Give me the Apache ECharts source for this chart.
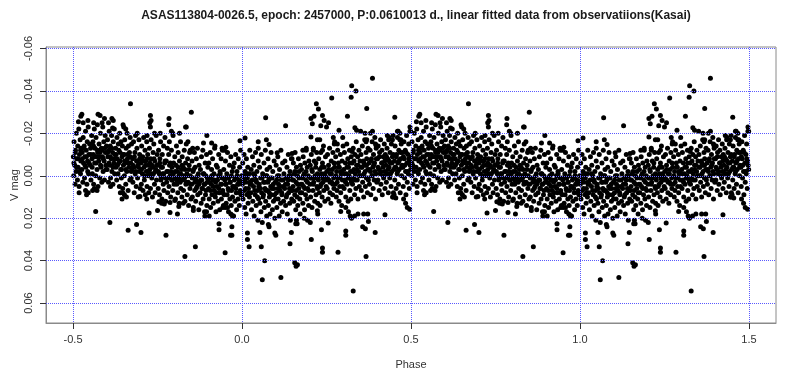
<!DOCTYPE html>
<html>
<head>
<meta charset="utf-8">
<script src="https://cdn.jsdelivr.net/npm/echarts@6/dist/echarts.min.js"></script>
<style>html,body{margin:0;padding:0;background:#fff}#c{width:800px;height:381px}</style>
</head>
<body>
<div id="c"></div>
<script>
// Title and axis texts
const titleText = 'ASAS113804-0026.5, epoch: 2457000, P:0.0610013 d., linear fitted data from observatiions(Kasai)';
const xName = 'Phase';
const yName = 'V mag';
const xTicks = [-0.5, 0, 0.5, 1, 1.5];
const yTicks = [-0.06, -0.04, -0.02, 0, 0.02, 0.04, 0.06];

// Observations folded to one cycle: [phase, V mag], phase 0..0.25
const obsQ1 = [
[0.001,0.004],[0.002,-0.006],[0.003,0.011],[0.004,0.000],[0.006,-0.010],[0.007,0.007],[0.008,0.015],[0.009,-0.002],[0.011,0.003],[0.012,0.018],[0.013,-0.008],[0.015,0.009],[0.016,0.001],[0.017,-0.004],[0.018,0.013],[0.019,0.006],[0.021,-0.001],[0.022,0.010],[0.023,-0.012],[0.024,0.004],
[0.009,-0.0178],[0.016,0.027],[0.016,0.030],[0.021,0.0335],
[0.026,0.008],[0.027,-0.003],[0.028,0.016],[0.030,0.002],[0.031,-0.009],[0.032,0.012],[0.034,0.005],[0.035,-0.005],[0.036,0.019],[0.038,0.000],[0.039,0.009],[0.040,-0.011],[0.042,0.014],[0.043,0.003],[0.044,-0.002],[0.046,0.007],[0.047,0.021],[0.048,-0.007],[0.049,0.011],
[0.048,-0.016],[0.048,-0.013],
[0.051,0.004],[0.052,-0.004],[0.053,0.013],[0.055,0.001],[0.056,0.017],[0.057,-0.010],[0.058,0.008],[0.060,0.022],[0.061,-0.001],[0.062,0.010],[0.064,0.003],[0.065,-0.006],[0.066,0.015],[0.068,0.006],[0.069,-0.012],[0.070,0.012],[0.071,0.000],[0.073,0.019],[0.074,-0.003],
[0.053,0.0267],[0.057,0.0335],[0.060,0.049],[0.067,0.040],[0.070,-0.0273],[0.072,-0.017],
[0.076,0.007],[0.077,-0.008],[0.078,0.014],[0.079,0.002],[0.081,0.010],[0.082,-0.004],[0.083,0.018],[0.085,0.005],[0.086,-0.011],[0.087,0.009],[0.089,0.001],[0.090,0.016],[0.091,-0.002],[0.093,0.012],[0.094,0.006],[0.095,-0.007],[0.097,0.020],[0.098,0.003],[0.099,0.011],
[0.080,-0.0147],[0.080,0.024],[0.078,0.023],
[0.101,-0.005],[0.102,0.008],[0.103,0.015],[0.105,0.000],[0.106,-0.009],[0.107,0.011],[0.108,0.004],[0.110,0.019],[0.111,-0.003],[0.112,0.007],[0.114,0.013],[0.115,-0.012],[0.116,0.002],[0.118,0.009],[0.119,0.017],[0.120,-0.006],[0.122,0.005],[0.123,0.012],[0.124,-0.001],
[0.104,-0.0108],[0.100,0.028],[0.097,0.027],[0.115,0.048],
[0.126,0.006],[0.127,-0.007],[0.129,0.014],[0.130,0.001],[0.131,0.010],[0.133,-0.004],[0.134,0.018],[0.135,0.004],[0.137,-0.010],[0.138,0.008],[0.139,0.000],[0.141,0.013],[0.142,-0.002],[0.143,0.021],[0.145,0.007],[0.146,-0.008],[0.147,0.011],[0.149,0.002],
[0.129,-0.0236],[0.142,0.032],[0.146,0.0267],[0.148,-0.0105],[0.148,-0.008],
[0.151,0.005],[0.152,-0.006],[0.153,0.012],[0.155,-0.001],[0.156,0.009],[0.157,-0.011],[0.159,0.016],[0.160,0.003],[0.161,-0.004],[0.163,0.010],[0.164,0.000],[0.165,0.014],[0.167,-0.008],[0.168,0.006],[0.169,-0.002],[0.171,0.011],[0.172,0.018],[0.173,-0.005],[0.174,0.004],
[0.156,0.041],[0.160,0.0426],[0.163,0.0226],[0.159,0.0226],[0.161,0.021],[0.164,0.042],
[0.176,-0.003],[0.177,0.008],[0.178,0.001],[0.180,0.013],[0.181,-0.009],[0.182,0.005],[0.184,-0.001],[0.185,0.016],[0.186,-0.006],[0.188,0.009],[0.189,0.002],[0.190,-0.012],[0.192,0.011],[0.193,-0.004],[0.194,0.006],[0.196,0.000],[0.197,0.014],[0.198,-0.007],
[0.184,0.020],[0.194,0.021],[0.180,-0.012],[0.190,-0.013],
[0.201,0.004],[0.202,-0.005],[0.203,0.010],[0.205,-0.010],[0.206,0.001],[0.207,0.015],[0.208,-0.002],[0.210,0.007],[0.211,-0.013],[0.212,0.003],[0.214,-0.007],[0.215,0.012],[0.216,0.000],[0.218,-0.004],[0.219,0.009],[0.221,-0.011],[0.222,0.005],[0.223,-0.001],[0.224,0.013],
[0.204,-0.027],[0.213,-0.028],[0.208,-0.0245],[0.204,-0.0183],[0.220,-0.034],[0.223,-0.017],[0.202,0.022],[0.205,0.030],[0.223,0.0165],[0.224,0.018],[0.211,-0.012],
[0.226,0.002],[0.227,-0.008],[0.229,0.008],[0.230,-0.003],[0.231,0.014],[0.233,-0.011],[0.234,0.004],[0.235,-0.001],[0.237,0.010],[0.238,-0.006],[0.239,0.001],[0.241,-0.014],[0.242,0.007],[0.243,-0.004],[0.245,0.012],[0.246,0.000],[0.247,-0.009],[0.249,0.005],
[0.226,-0.0315],[0.230,-0.017],[0.233,-0.0236],[0.238,-0.0284],[0.243,-0.026],[0.235,0.0255],[0.238,0.034],[0.238,0.036],[0.238,-0.012]
];

// phase 0.25..0.5
const obsQ2 = [
[0.251,-0.002],[0.252,0.006],[0.253,-0.010],[0.255,0.011],[0.256,-0.005],[0.257,0.002],[0.259,-0.013],[0.260,0.008],[0.261,-0.001],[0.263,0.013],[0.264,-0.007],[0.265,0.003],[0.267,-0.003],[0.268,0.009],[0.269,-0.011],[0.271,0.001],[0.272,0.006],[0.273,-0.015],[0.274,-0.004],
[0.256,-0.025],[0.250,-0.023],[0.2655,-0.0367],[0.255,0.0223],[0.270,-0.018],[0.274,-0.016],
[0.276,0.004],[0.277,-0.009],[0.279,0.010],[0.280,-0.002],[0.281,0.007],[0.283,-0.012],[0.284,0.001],[0.285,-0.006],[0.287,0.012],[0.288,-0.004],[0.289,0.005],[0.291,-0.010],[0.292,0.008],[0.293,-0.001],[0.295,0.014],[0.296,-0.007],[0.297,0.002],[0.299,-0.014],
[0.287,-0.0214],[0.282,-0.015],[0.298,-0.018],[0.284,0.036],[0.292,0.0169],
[0.301,-0.003],[0.302,0.006],[0.303,-0.011],[0.305,0.002],[0.306,-0.006],[0.307,0.010],[0.309,-0.001],[0.310,-0.015],[0.311,0.004],[0.313,-0.008],[0.314,0.012],[0.315,-0.004],[0.317,0.000],[0.318,-0.012],[0.319,0.007],[0.321,-0.002],[0.322,0.011],[0.323,-0.009],[0.324,0.003],
[0.312,-0.028],[0.307,0.026],[0.307,0.028],[0.307,0.015],[0.315,0.017],[0.320,0.019],[0.3245,-0.0424],[0.323,-0.037],[0.324,0.020],
[0.326,-0.006],[0.327,0.004],[0.329,-0.013],[0.330,0.001],[0.331,-0.003],[0.333,0.009],[0.334,-0.010],[0.335,-0.001],[0.337,0.006],[0.338,-0.016],[0.339,-0.005],[0.341,0.002],[0.342,-0.009],[0.343,0.011],[0.345,-0.002],[0.346,-0.012],[0.347,0.005],[0.349,-0.007],
[0.326,-0.0115],[0.334,-0.0226],[0.337,-0.040],[0.329,0.0543],[0.339,-0.0215],[0.343,0.018],[0.333,0.019],
[0.351,0.000],[0.352,-0.010],[0.353,0.007],[0.355,-0.004],[0.356,-0.014],[0.357,0.003],[0.359,-0.007],[0.360,0.010],[0.361,-0.001],[0.363,-0.017],[0.364,-0.005],[0.365,0.005],[0.367,-0.011],[0.368,0.001],[0.369,-0.008],[0.371,0.008],[0.372,-0.003],[0.373,-0.013],[0.374,0.002],
[0.351,-0.021],[0.364,-0.020],[0.369,-0.0317],[0.369,-0.017],[0.367,-0.016],[0.357,0.024],[0.365,0.025],[0.367,0.038],[0.374,0.0215],[0.360,0.018],[0.372,0.018],
[0.376,-0.006],[0.377,0.004],[0.379,-0.012],[0.380,-0.002],[0.381,0.009],[0.383,-0.008],[0.384,0.000],[0.385,-0.016],[0.387,-0.004],[0.388,0.006],[0.389,-0.010],[0.391,0.002],[0.392,-0.006],[0.393,-0.018],[0.395,0.011],[0.396,-0.001],[0.397,-0.013],[0.399,0.003],
[0.380,-0.020],[0.386,-0.046],[0.386,-0.021],[0.394,0.0267],[0.397,-0.014],[0.395,-0.015],
[0.401,-0.008],[0.402,0.002],[0.403,-0.014],[0.405,-0.003],[0.406,0.007],[0.407,-0.011],[0.409,-0.001],[0.410,-0.017],[0.411,0.004],[0.413,-0.006],[0.414,-0.012],[0.415,0.009],[0.417,-0.004],[0.418,-0.009],[0.419,0.001],[0.421,-0.015],[0.422,-0.002],[0.423,0.006],[0.424,-0.010],
[0.423,0.0184],[0.430,-0.019],
[0.426,-0.005],[0.427,0.003],[0.429,-0.013],[0.430,-0.001],[0.431,-0.008],[0.433,0.008],[0.434,-0.017],[0.435,-0.004],[0.437,0.001],[0.438,-0.011],[0.439,-0.006],[0.441,0.005],[0.442,-0.015],[0.443,-0.002],[0.445,-0.009],[0.446,0.010],[0.447,-0.019],[0.449,-0.003],
[0.435,-0.018],[0.445,-0.017],[0.448,0.008],[0.446,0.010],
[0.451,-0.007],[0.452,0.002],[0.453,-0.014],[0.455,-0.004],[0.456,0.006],[0.457,-0.010],[0.459,-0.001],[0.460,-0.018],[0.461,-0.006],[0.463,0.004],[0.464,-0.012],[0.465,-0.003],[0.467,-0.020],[0.468,0.008],[0.469,-0.008],[0.471,-0.015],[0.472,0.000],[0.473,-0.005],[0.474,-0.011],
[0.452,-0.0276],[0.460,-0.021],[0.462,-0.021],[0.450,0.009],[0.455,0.0105],[0.467,-0.017],[0.470,-0.017],
[0.476,-0.004],[0.477,0.005],[0.479,-0.016],[0.480,-0.008],[0.481,0.001],[0.483,-0.012],[0.484,-0.002],[0.485,0.009],[0.487,-0.019],[0.488,-0.006],[0.489,0.003],[0.491,-0.010],[0.492,-0.001],[0.493,-0.015],[0.495,0.006],[0.496,-0.007],[0.497,-0.021],[0.499,-0.003],
[0.478,0.011],[0.484,0.013],[0.489,0.015],[0.497,-0.023],[0.499,-0.021],[0.496,0.0158]
];

// phase 0.5..0.75
const obsQ3 = [
[0.501,-0.009],[0.502,0.000],[0.503,-0.016],[0.505,-0.005],[0.506,0.004],[0.507,-0.012],[0.509,-0.002],[0.510,-0.020],[0.511,-0.008],[0.513,0.002],[0.514,-0.014],[0.515,-0.004],[0.517,-0.022],[0.518,0.005],[0.519,-0.010],[0.521,-0.017],[0.522,-0.001],[0.523,-0.007],[0.524,-0.013],
[0.516,-0.0255],[0.518,0.008],[0.523,-0.028],
[0.526,-0.003],[0.527,-0.011],[0.529,0.003],[0.530,-0.018],[0.531,-0.006],[0.533,-0.014],[0.534,0.001],[0.535,-0.009],[0.537,-0.021],[0.538,-0.004],[0.539,-0.012],[0.541,0.004],[0.542,-0.016],[0.543,-0.007],[0.545,-0.023],[0.546,-0.001],[0.547,-0.010],[0.549,-0.015],
[0.526,-0.029],[0.530,-0.025],[0.537,0.007],[0.540,0.009],[0.544,-0.026],[0.545,0.008],
[0.551,-0.005],[0.552,-0.013],[0.553,0.002],[0.555,-0.019],[0.556,-0.008],[0.557,-0.001],[0.559,-0.016],[0.560,-0.010],[0.561,0.004],[0.563,-0.022],[0.564,-0.006],[0.565,-0.013],[0.567,0.000],[0.568,-0.018],[0.569,-0.009],[0.571,-0.003],[0.572,-0.024],[0.573,-0.011],[0.574,0.005],
[0.561,-0.025],[0.558,0.007],[0.567,0.0168],[0.563,0.006],[0.571,0.007],[0.574,-0.029],
[0.576,-0.007],[0.577,-0.015],[0.579,0.001],[0.580,-0.011],[0.581,-0.020],[0.583,-0.004],[0.584,-0.013],[0.585,0.003],[0.587,-0.009],[0.588,-0.023],[0.589,-0.002],[0.591,-0.016],[0.592,-0.007],[0.593,0.002],[0.595,-0.019],[0.596,-0.011],[0.597,-0.005],[0.599,-0.014],
[0.580,-0.0284],[0.586,-0.025],[0.593,-0.027],
[0.601,-0.003],[0.602,-0.017],[0.603,-0.009],[0.605,0.003],[0.606,-0.012],[0.607,-0.021],[0.609,-0.005],[0.610,-0.014],[0.611,0.001],[0.613,-0.008],[0.614,-0.019],[0.615,-0.002],[0.617,-0.011],[0.618,0.004],[0.619,-0.016],[0.621,-0.006],[0.622,-0.022],[0.623,-0.001],[0.624,-0.010],
[0.605,-0.025],[0.615,-0.027],[0.619,-0.026],[0.609,0.022],[0.611,0.005],[0.617,-0.0225],
[0.626,-0.013],[0.627,-0.004],[0.629,0.002],[0.630,-0.018],[0.631,-0.008],[0.633,-0.001],[0.634,-0.015],[0.635,-0.006],[0.637,0.005],[0.638,-0.020],[0.639,-0.011],[0.641,-0.003],[0.642,-0.016],[0.643,0.001],[0.645,-0.009],[0.646,-0.014],[0.647,0.006],[0.649,-0.005],
[0.640,0.008],[0.645,0.011],[0.647,0.008],[0.648,-0.024],[0.650,-0.023],
[0.651,-0.010],[0.652,0.000],[0.653,-0.017],[0.655,-0.006],[0.656,0.004],[0.657,-0.013],[0.659,-0.002],[0.660,-0.020],[0.661,-0.008],[0.663,0.007],[0.664,-0.014],[0.665,-0.004],[0.667,-0.011],[0.668,0.002],[0.669,-0.018],[0.671,-0.006],[0.672,0.001],[0.673,-0.015],[0.674,-0.003],
[0.663,0.0257],[0.652,0.009],[0.658,0.010],[0.670,-0.034],[0.656,-0.022],
[0.676,-0.008],[0.677,0.003],[0.679,-0.016],[0.680,-0.004],[0.681,0.008],[0.683,-0.011],[0.684,-0.001],[0.685,-0.019],[0.687,0.005],[0.688,-0.007],[0.689,-0.013],[0.691,0.001],[0.692,-0.005],[0.693,0.010],[0.695,-0.017],[0.696,-0.002],[0.697,-0.010],[0.699,0.006],
[0.688,0.023],[0.698,0.0098],[0.690,-0.020],[0.701,0.0267],
[0.701,-0.006],[0.702,0.004],[0.703,-0.014],[0.705,-0.001],[0.706,-0.009],[0.707,0.007],[0.709,-0.018],[0.710,-0.004],[0.711,0.002],[0.713,-0.012],[0.714,0.009],[0.715,-0.007],[0.717,-0.002],[0.718,-0.016],[0.719,0.005],[0.721,-0.010],[0.722,0.000],[0.723,-0.005],[0.724,0.008],
[0.718,0.011],[0.719,-0.019],[0.725,0.0176],
[0.726,-0.013],[0.727,-0.003],[0.729,0.006],[0.730,-0.008],[0.731,-0.017],[0.733,0.001],[0.734,-0.005],[0.735,0.010],[0.737,-0.011],[0.738,-0.001],[0.739,-0.015],[0.741,0.004],[0.742,-0.007],[0.743,0.008],[0.745,-0.003],[0.746,-0.019],[0.747,0.002],[0.749,-0.010],
[0.729,-0.0284],[0.731,-0.026],[0.727,-0.025],[0.729,-0.023],[0.741,-0.020]
];

// phase 0.75..1.0
const obsQ4 = [
[0.750,0.0164],
[0.751,-0.005],[0.752,0.006],[0.753,-0.012],[0.755,-0.001],[0.756,0.009],[0.757,-0.008],[0.759,-0.016],[0.760,0.002],[0.761,-0.004],[0.763,0.011],[0.764,-0.010],[0.765,-0.001],[0.767,0.004],[0.768,-0.014],[0.769,0.007],[0.771,-0.006],[0.772,-0.018],[0.773,0.001],[0.774,0.012],
[0.754,0.0122],[0.762,0.013],[0.770,0.0133],[0.758,-0.020],[0.775,0.028],
[0.776,-0.007],[0.777,0.003],[0.779,-0.013],[0.780,0.008],[0.781,-0.002],[0.783,-0.010],[0.784,0.005],[0.785,-0.016],[0.787,0.000],[0.788,-0.006],[0.789,0.010],[0.791,-0.012],[0.792,0.002],[0.793,-0.004],[0.795,0.007],[0.796,-0.019],[0.797,-0.001],[0.799,0.004],
[0.784,-0.027],[0.783,-0.024],[0.787,0.0126],[0.787,0.0173],[0.791,-0.021],[0.795,-0.020],
[0.801,-0.009],[0.802,0.001],[0.803,0.011],[0.805,-0.005],[0.806,-0.014],[0.807,0.004],[0.809,-0.002],[0.810,0.008],[0.811,-0.011],[0.813,0.000],[0.814,0.013],[0.815,-0.007],[0.817,0.003],[0.818,-0.016],[0.819,0.006],[0.821,-0.003],[0.822,0.010],[0.823,-0.009],[0.824,0.002],
[0.801,0.0117],[0.809,0.018],[0.813,0.0145],[0.826,0.013],[0.815,-0.020],
[0.826,-0.004],[0.827,0.007],[0.829,-0.012],[0.830,0.001],[0.831,0.012],[0.833,-0.006],[0.834,0.004],[0.835,-0.015],[0.837,-0.001],[0.838,0.009],[0.839,-0.008],[0.841,0.003],[0.842,0.014],[0.843,-0.003],[0.845,-0.011],[0.846,0.006],[0.847,0.000],[0.849,0.011],
[0.833,-0.023],[0.831,0.038],[0.835,-0.023],[0.850,-0.030],[0.840,-0.016],[0.847,-0.012],
[0.851,0.004],[0.852,-0.007],[0.853,0.010],[0.855,-0.002],[0.856,0.015],[0.857,0.001],[0.859,-0.011],[0.860,0.007],[0.861,-0.004],[0.863,0.012],[0.864,0.002],[0.865,-0.008],[0.867,0.005],[0.868,-0.013],[0.869,0.009],[0.871,-0.001],[0.872,0.016],[0.873,-0.005],[0.874,0.003],
[0.856,0.0164],[0.862,0.0335],[0.854,-0.013],
[0.876,0.008],[0.877,-0.003],[0.879,0.013],[0.880,-0.009],[0.881,0.002],[0.883,0.006],[0.884,-0.012],[0.885,0.011],[0.887,-0.001],[0.888,0.004],[0.889,0.017],[0.891,-0.006],[0.892,0.009],[0.893,0.000],[0.895,-0.010],[0.896,0.014],[0.897,0.003],[0.899,-0.004],
[0.886,-0.0155],[0.896,-0.019],[0.890,0.019],[0.895,0.017],
[0.901,0.006],[0.902,-0.006],[0.903,0.011],[0.905,0.001],[0.906,-0.011],[0.907,0.015],[0.909,0.004],[0.910,-0.003],[0.911,0.009],[0.913,-0.008],[0.914,0.002],[0.915,0.013],[0.917,-0.001],[0.918,0.007],[0.919,-0.013],[0.921,0.010],[0.922,0.003],[0.923,0.017],[0.924,-0.005],
[0.903,0.019],[0.910,-0.0155],[0.920,-0.014],
[0.926,0.005],[0.927,-0.004],[0.929,0.012],[0.930,0.000],[0.931,-0.010],[0.933,0.008],[0.934,0.016],[0.935,-0.002],[0.937,0.004],[0.938,-0.008],[0.939,0.011],[0.941,0.001],[0.942,-0.012],[0.943,0.007],[0.945,0.014],[0.946,-0.003],[0.947,0.009],[0.949,0.002],
[0.932,0.0226],[0.932,0.0254],[0.941,-0.013],[0.948,-0.012],[0.950,0.0363],[0.943,0.015],
[0.951,-0.007],[0.952,0.004],[0.953,0.013],[0.955,-0.001],[0.956,0.009],[0.957,-0.011],[0.959,0.006],[0.960,0.017],[0.961,0.001],[0.963,-0.005],[0.964,0.011],[0.965,0.003],[0.967,-0.009],[0.968,0.014],[0.969,0.007],[0.971,-0.002],[0.972,0.010],[0.973,0.019],[0.974,-0.004],
[0.952,-0.0135],[0.950,0.015],[0.957,0.015],[0.970,0.024],[0.970,0.028],[0.966,0.028],[0.972,0.019],[0.967,0.018],[0.975,0.019],
[0.976,0.005],[0.977,-0.006],[0.979,0.012],[0.980,0.001],[0.981,-0.010],[0.983,0.008],[0.984,0.016],[0.985,-0.002],[0.987,0.004],[0.988,0.011],[0.989,-0.008],[0.991,0.002],[0.992,0.014],[0.993,-0.004],[0.995,0.007],[0.996,-0.012],[0.997,0.009],[0.999,0.000],
[0.994,-0.0165]
];

// Dense core of the light curve (points packed near the mean level)
const obsCore = [
[0.0045,0.002],[0.0105,0.006],[0.0145,-0.001],[0.0195,0.008],[0.0225,0.003],[0.0005,0.009],
[0.0275,0.004],[0.0335,-0.001],[0.0375,0.007],[0.0415,0.002],[0.0455,0.010],[0.0495,0.005],
[0.0545,0.006],[0.0595,0.001],[0.0635,0.009],[0.0675,0.003],[0.0705,0.007],[0.0735,0.000],
[0.0765,0.003],[0.0805,0.008],[0.0845,0.001],[0.0885,0.006],[0.0925,0.004],[0.0965,0.009],
[0.1025,0.002],[0.1065,0.006],[0.1095,0.000],[0.1135,0.005],[0.1175,0.008],[0.1215,0.002],
[0.1285,0.004],[0.1325,0.009],[0.1365,0.002],[0.1405,0.006],[0.1445,0.000],[0.1485,0.007],
[0.1525,0.002],[0.1565,-0.002],[0.1605,0.007],[0.1645,0.004],[0.1685,0.001],[0.1725,0.008],
[0.1775,0.004],[0.1815,0.000],[0.1855,0.006],[0.1895,-0.002],[0.1935,0.003],[0.1975,0.007],
[0.2025,0.001],[0.2065,-0.003],[0.2105,0.004],[0.2145,0.001],[0.2185,-0.006],[0.2235,0.006],
[0.2275,0.000],[0.2315,0.005],[0.2355,-0.004],[0.2395,0.003],[0.2435,-0.001],[0.2485,0.002],
[0.2525,0.001],[0.2565,-0.003],[0.2605,0.003],[0.2645,-0.001],[0.2685,0.004],[0.2725,-0.006],
[0.2775,0.000],[0.2815,0.003],[0.2855,-0.004],[0.2895,0.001],[0.2935,-0.002],[0.2975,0.005],
[0.3025,-0.001],[0.3065,0.003],[0.3105,-0.004],[0.3145,0.001],[0.3185,-0.006],[0.3225,0.002],
[0.3275,-0.002],[0.3315,-0.007],[0.3355,0.002],[0.3395,-0.003],[0.3435,-0.005],[0.3475,0.000],
[0.3525,-0.004],[0.3565,0.000],[0.3605,-0.006],[0.3645,-0.002],[0.3685,-0.005],[0.3725,0.001],
[0.3775,-0.003],[0.3815,-0.007],[0.3855,0.000],[0.3895,-0.005],[0.3935,-0.002],[0.3975,-0.008],
[0.4025,-0.004],[0.4065,-0.009],[0.4105,-0.002],[0.4145,-0.006],[0.4185,0.000],[0.4225,-0.007],
[0.4275,-0.009],[0.4315,-0.003],[0.4355,-0.007],[0.4395,-0.001],[0.4435,-0.006],[0.4475,-0.010],
[0.4525,-0.004],[0.4565,-0.009],[0.4605,-0.002],[0.4645,-0.007],[0.4685,-0.011],[0.4725,-0.004],
[0.4775,-0.009],[0.4815,-0.005],[0.4855,-0.011],[0.4895,-0.002],[0.4935,-0.008],[0.4975,-0.005],
[0.5025,-0.006],[0.5065,-0.011],[0.5105,-0.004],[0.5145,-0.008],[0.5185,-0.002],[0.5225,-0.012],
[0.5275,-0.008],[0.5315,-0.013],[0.5355,-0.005],[0.5395,-0.009],[0.5435,-0.002],[0.5475,-0.006],
[0.5525,-0.010],[0.5565,-0.004],[0.5605,-0.014],[0.5645,-0.009],[0.5685,-0.006],[0.5725,-0.012],
[0.5775,-0.009],[0.5815,-0.005],[0.5855,-0.012],[0.5895,-0.008],[0.5935,-0.013],[0.5975,-0.003],
[0.6025,-0.011],[0.6065,-0.006],[0.6105,-0.009],[0.6145,-0.013],[0.6185,-0.004],[0.6225,-0.008],
[0.6275,-0.010],[0.6315,-0.005],[0.6355,-0.012],[0.6395,-0.007],[0.6435,-0.003],[0.6475,-0.010],
[0.6525,-0.007],[0.6565,-0.003],[0.6605,-0.010],[0.6645,-0.006],[0.6685,-0.009],[0.6725,-0.002],
[0.6775,-0.005],[0.6815,-0.009],[0.6855,-0.002],[0.6895,-0.007],[0.6935,-0.004],[0.6975,-0.008],
[0.7025,-0.003],[0.7065,-0.007],[0.7105,0.000],[0.7145,-0.005],[0.7185,-0.008],[0.7225,-0.002],
[0.7275,-0.006],[0.7315,-0.001],[0.7355,-0.004],[0.7395,-0.008],[0.7435,-0.002],[0.7475,-0.005],
[0.7525,-0.002],[0.7565,-0.006],[0.7605,0.001],[0.7645,-0.004],[0.7685,-0.001],[0.7725,-0.007],
[0.7775,-0.002],[0.7815,0.001],[0.7855,-0.005],[0.7895,-0.002],[0.7935,0.002],[0.7975,-0.006],
[0.8025,-0.002],[0.8065,0.002],[0.8105,-0.004],[0.8145,0.001],[0.8185,-0.001],[0.8225,-0.005],
[0.8275,0.000],[0.8315,-0.003],[0.8355,0.003],[0.8395,0.000],[0.8435,-0.005],[0.8475,0.004],
[0.8525,0.001],[0.8565,-0.003],[0.8605,0.003],[0.8645,0.006],[0.8685,0.000],[0.8725,0.004],
[0.8775,0.002],[0.8815,0.006],[0.8855,-0.001],[0.8895,0.004],[0.8935,0.007],[0.8975,0.001],
[0.9025,0.003],[0.9065,0.007],[0.9105,0.000],[0.9145,0.005],[0.9185,0.002],[0.9225,0.008],
[0.9275,0.002],[0.9315,0.006],[0.9355,-0.001],[0.9395,0.004],[0.9435,0.008],[0.9475,0.001],
[0.9525,0.004],[0.9565,0.001],[0.9605,0.007],[0.9645,0.003],[0.9685,0.000],[0.9725,0.005],
[0.9775,0.002],[0.9815,0.006],[0.9855,0.000],[0.9895,0.004],[0.9935,0.008],[0.9975,0.003]
];

// The plot shows two cycles: every observation at its phase and one cycle earlier/later
const obs = obsQ1.concat(obsQ2, obsQ3, obsQ4, obsCore);
const plotted = [];
obs.forEach(([p, v]) => {
  plotted.push([p, v]);
  plotted.push([p < 0.5 ? p + 1 : p - 1, v]);
});

const font = 'Liberation Sans, Arial, sans-serif';
const boxColor = '#8a8a8a';
const gridStyle = {type: 'dotted', color: '#5a5aff', width: 1};

const chart = echarts.init(document.getElementById('c'), null, {renderer: 'canvas'});
chart.setOption({
  animation: false,
  backgroundColor: '#fff',
  title: {
    text: titleText,
    left: 411, top: 5, textAlign: 'center',
    textStyle: {fontFamily: font, fontSize: 12, fontWeight: 'bold', color: '#1a1a1a'}
  },
  grid: {left: 46, right: 24, top: 47, bottom: 58, outerBoundsMode: 'none', containLabel: false,
    show: true, borderColor: boxColor, borderWidth: 1, backgroundColor: 'transparent'},
  xAxis: {
    type: 'value', min: -0.58, max: 1.58,
    name: xName, nameLocation: 'middle', nameGap: 36, nameMoveOverlap: false,
    nameTextStyle: {fontFamily: font, fontSize: 11, color: '#333'},
    axisLine: {show: true, onZero: false, lineStyle: {color: boxColor, width: 1}},
    axisTick: {show: true, inside: false, length: 6, customValues: xTicks, lineStyle: {color: '#333', width: 1}},
    axisLabel: {customValues: xTicks, margin: 11, fontFamily: font, fontSize: 11, color: '#333',
      formatter: v => v.toFixed(1)},
    splitLine: {show: false}
  },
  yAxis: {
    type: 'value', min: -0.0607, max: 0.0694, inverse: true,
    name: yName, nameLocation: 'middle', nameGap: 26, nameMoveOverlap: false,
    nameTextStyle: {fontFamily: font, fontSize: 11, color: '#333'},
    axisLine: {show: true, onZero: false, lineStyle: {color: boxColor, width: 1}},
    axisTick: {show: true, inside: false, length: 6, customValues: yTicks, lineStyle: {color: '#333', width: 1}},
    axisLabel: {customValues: yTicks, rotate: 90, margin: 12, fontFamily: font, fontSize: 11, color: '#333',
      formatter: v => v.toFixed(2)},
    splitLine: {show: false}
  },
  series: [
    {
      type: 'scatter', data: [], z: 1, silent: true,
      markLine: {
        silent: true, symbol: 'none', animation: false,
        label: {show: false},
        lineStyle: gridStyle,
        data: xTicks.map(x => ({xAxis: x})).concat(yTicks.map(y => ({yAxis: y})))
      }
    },
    {
      type: 'scatter', data: plotted, z: 2, silent: true,
      symbol: 'circle', symbolSize: 5,
      itemStyle: {color: '#000', opacity: 1}
    }
  ]
});
</script>
</body>
</html>
